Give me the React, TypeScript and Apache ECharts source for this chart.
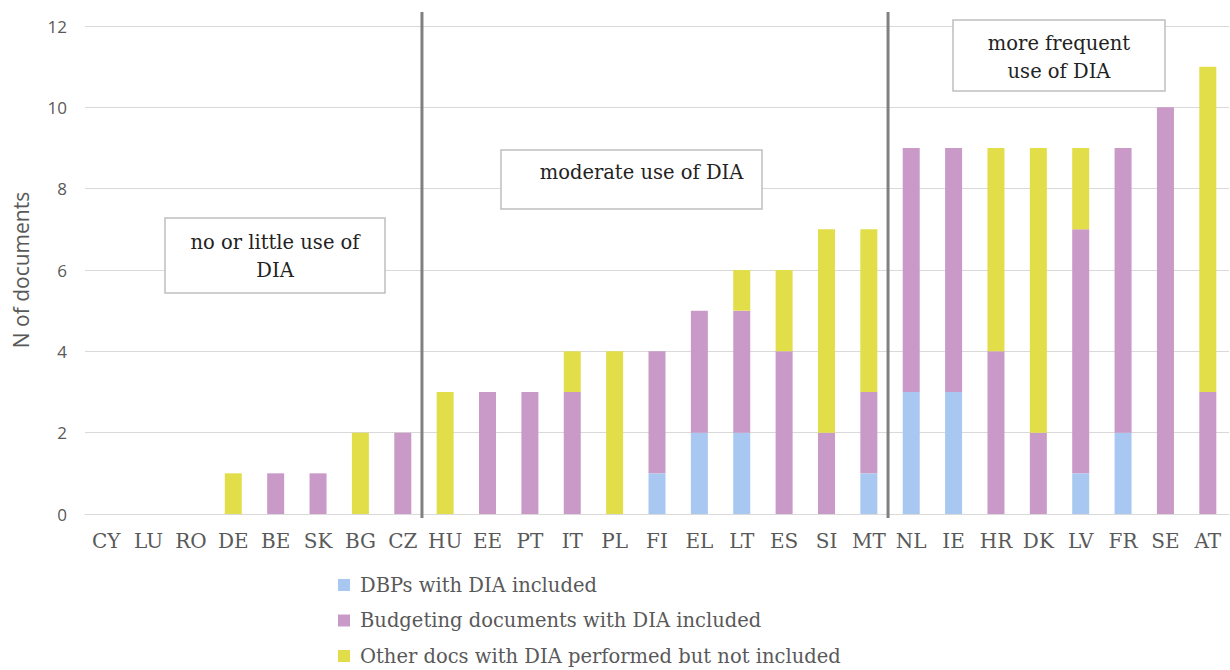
import React, { useEffect, useRef } from "react";
import * as echarts from "echarts";

const categories = ["CY","LU","RO","DE","BE","SK","BG","CZ","HU","EE","PT","IT","PL","FI","EL","LT","ES","SI","MT","NL","IE","HR","DK","LV","FR","SE","AT"];
const dbps =       [0,0,0,0,0,0,0,0,0,0,0,0,0,1,2,2,0,0,1,3,3,0,0,1,2,0,0];
const budgeting =  [0,0,0,0,1,1,0,2,0,3,3,3,0,3,3,3,4,2,2,6,6,4,2,6,7,10,3];
const other =      [0,0,0,1,0,0,2,0,3,0,0,1,4,0,0,1,2,5,4,0,0,5,7,2,0,0,8];
const seriesNames = ["DBPs with DIA included","Budgeting documents with DIA included","Other docs with DIA performed but not included"];
const colors = ["#A9C8F1","#C99AC7","#E2DE49"];
const groupStarts = ["HU","NL"];
const yTicks = { min: 0, max: 12, interval: 2 };

const SERIF = "'DejaVu Serif', serif";
const SANS = "'Open Sans', 'Noto Sans', sans-serif";

export default function App() {
  const ref = useRef<HTMLDivElement>(null);
  useEffect(() => {
    if (!ref.current) return;
    const chart = echarts.init(ref.current, null, { renderer: "svg" });
    const values = [dbps, budgeting, other];
    chart.setOption({
      animation: false,
      grid: { left: 85, right: 1, top: 26, bottom: 156 },
      xAxis: {
        type: "category",
        data: categories,
        axisTick: { show: false },
        axisLine: { lineStyle: { color: "#d9d9d9", width: 1 } },
        axisLabel: { color: "#595959", fontFamily: SERIF, fontSize: 20, margin: 17, interval: 0 },
      },
      yAxis: {
        type: "value",
        min: yTicks.min,
        max: yTicks.max,
        interval: yTicks.interval,
        name: "N of documents",
        nameLocation: "middle",
        nameGap: 54,
        nameTextStyle: { color: "#595959", fontFamily: SANS, fontSize: 21 },
        axisLabel: { color: "#595959", fontFamily: SANS, fontSize: 17, margin: 18 },
        splitLine: { lineStyle: { color: "#d9d9d9", width: 1 } },
      },
      legend: {
        orient: "vertical",
        left: 338,
        top: 575,
        padding: 0,
        itemWidth: 12,
        itemHeight: 12,
        itemGap: 15.5,
        icon: "rect",
        textStyle: { color: "#595959", fontFamily: SERIF, fontSize: 19.5, lineHeight: 20, padding: [0, 0, 0, 5] },
        data: seriesNames,
      },
      series: seriesNames.map((n, i) => ({
        name: n,
        type: "bar",
        stack: "total",
        barWidth: 17,
        data: values[i],
        itemStyle: { color: colors[i] },
      })),
    });

    const bandHalf = (chart.convertToPixel({ xAxisIndex: 0 }, categories[1]) as number - (chart.convertToPixel({ xAxisIndex: 0 }, categories[0]) as number)) / 2;
    const yTop = chart.convertToPixel({ yAxisIndex: 0 }, 12) as number;
    const y0 = chart.convertToPixel({ yAxisIndex: 0 }, 0) as number;
    const seps = groupStarts.map((c) => {
      const x = (chart.convertToPixel({ xAxisIndex: 0 }, c) as number) - bandHalf - 2;
      return {
        type: "line",
        shape: { x1: x, y1: yTop - 14, x2: x, y2: y0 + 4 },
        style: { stroke: "#808080", lineWidth: 3 },
        z: 20,
      };
    });
    const box = (x: number, y: number, w: number, h: number, text: string, ty: number, tx = 0) => ({
      type: "group",
      z: 30,
      children: [
        { type: "rect", shape: { x, y, width: w, height: h }, style: { fill: "#fff", stroke: "#BFBFBF", lineWidth: 1.5 } },
        {
          type: "text",
          x: x + w / 2 + tx,
          y: ty,
          style: { text, fill: "#222", font: `19.5px ${SERIF}`, align: "center", verticalAlign: "middle", lineHeight: 28 },
        },
      ],
    });
    chart.setOption({
      graphic: [
        ...seps,
        box(165, 218, 220, 75, "no or little use of\nDIA", 256),
        box(501, 150, 261, 59, "moderate use of DIA", 172, 10),
        box(953, 20, 212, 71, "more frequent\nuse of DIA", 57),
      ],
    });
    return () => chart.dispose();
  }, []);
  return <div ref={ref} style={{ width: 1230, height: 670, position: "absolute", left: 0, top: 0 }} />;
}
